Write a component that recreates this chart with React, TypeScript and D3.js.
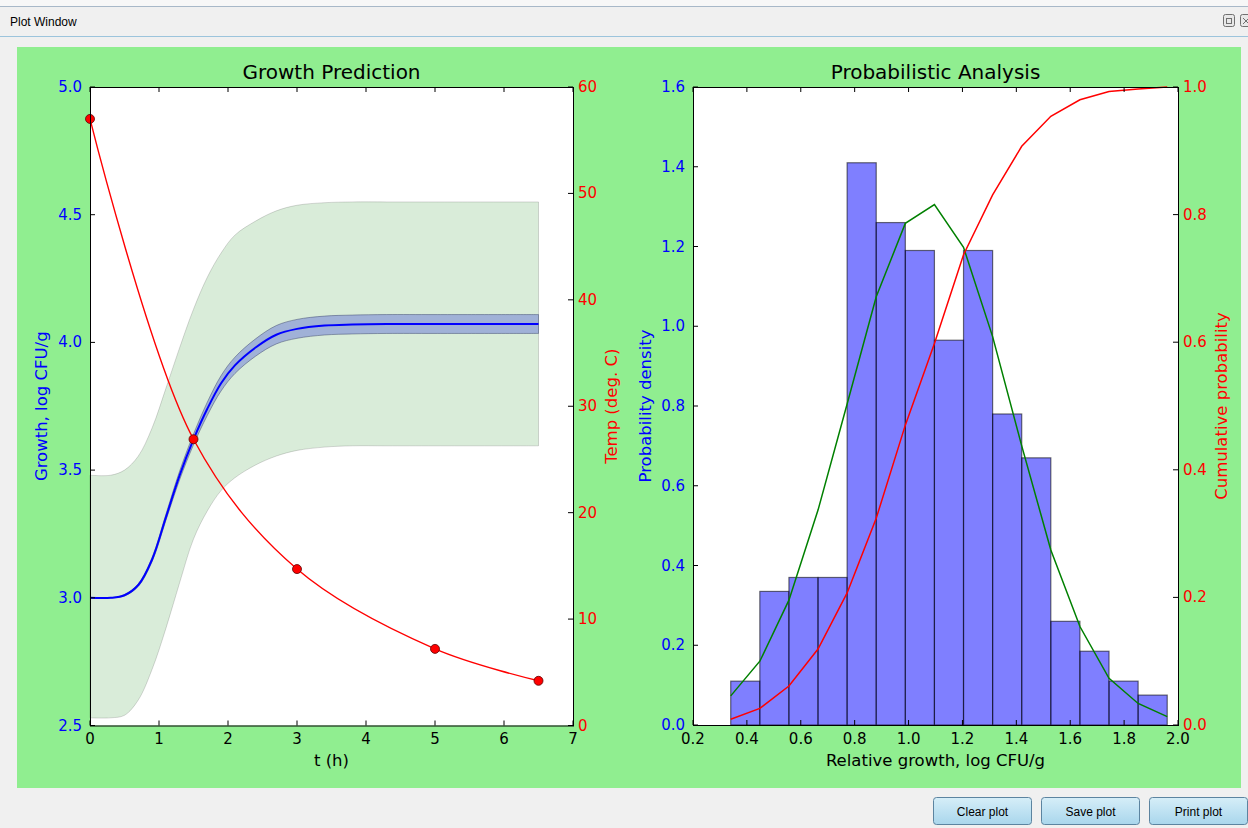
import React from "react";
import * as d3 from "d3";

// ---------- Data ----------
// Growth prediction (left panel)
const timeGrid = [0, 0.3, 0.5, 0.7, 0.9, 1.1, 1.3, 1.5, 1.7, 1.9, 2.1, 2.4, 2.7, 3.0, 3.4, 3.8, 4.3, 5.0, 6.5];
const growthMean = [3.0, 3.0, 3.01, 3.05, 3.15, 3.315, 3.48, 3.62, 3.74, 3.84, 3.91, 3.98, 4.03, 4.053, 4.066, 4.07, 4.072, 4.072, 4.072];
const growthCiHi = [3.0, 3.0, 3.013, 3.055, 3.158, 3.327, 3.497, 3.641, 3.766, 3.87, 3.942, 4.014, 4.066, 4.09, 4.103, 4.107, 4.109, 4.109, 4.109];
const growthCiLo = [3.0, 3.0, 3.007, 3.045, 3.142, 3.303, 3.463, 3.599, 3.714, 3.81, 3.878, 3.946, 3.994, 4.016, 4.029, 4.033, 4.035, 4.035, 4.035];
const growthPiHi = [3.48, 3.48, 3.50, 3.555, 3.665, 3.82, 3.98, 4.13, 4.255, 4.35, 4.42, 4.475, 4.515, 4.537, 4.547, 4.55, 4.55, 4.55, 4.55];
const growthPiLo = [2.53, 2.53, 2.54, 2.60, 2.72, 2.88, 3.06, 3.23, 3.34, 3.42, 3.47, 3.52, 3.555, 3.577, 3.59, 3.595, 3.595, 3.595, 3.595];

const tempTimes = [0, 1.5, 3, 5, 6.5];
const tempValues = [57.0, 26.9, 14.7, 7.2, 4.2];

const growthTicks = [2.5, 3.0, 3.5, 4.0, 4.5, 5.0];
const tempTicks = [0, 10, 20, 30, 40, 50, 60];
const timeTicks = [0, 1, 2, 3, 4, 5, 6, 7];

// Probabilistic analysis (right panel)
const binEdges = [0.34, 0.448, 0.556, 0.664, 0.772, 0.88, 0.988, 1.096, 1.204, 1.312, 1.42, 1.528, 1.636, 1.744, 1.852, 1.96];
const density = [0.11, 0.335, 0.37, 0.37, 1.41, 1.26, 1.19, 0.965, 1.19, 0.78, 0.67, 0.26, 0.185, 0.11, 0.075];
const pdfValues = [0.073, 0.16, 0.313, 0.539, 0.805, 1.074, 1.258, 1.305, 1.198, 0.974, 0.70, 0.439, 0.247, 0.117, 0.054, 0.021];
const cdfValues = [0.009, 0.026, 0.061, 0.119, 0.207, 0.324, 0.47, 0.598, 0.737, 0.831, 0.907, 0.954, 0.98, 0.993, 0.997, 1.0];

const relTicks = [0.2, 0.4, 0.6, 0.8, 1.0, 1.2, 1.4, 1.6, 1.8, 2.0];
const densTicks = [0, 0.2, 0.4, 0.6, 0.8, 1.0, 1.2, 1.4, 1.6];
const cumTicks = [0, 0.2, 0.4, 0.6, 0.8, 1.0];

const buttons = ["Clear plot", "Save plot", "Print plot"];

// ---------- Styles ----------
const FONT = "'DejaVu Sans', sans-serif";
const UI_FONT = "'Liberation Sans', 'Noto Sans', sans-serif";
const TICK = 5;
const LABEL_SIZE = 16.5;

export default function App() {
  // Left panel scales
  const L = { x0: 90, x1: 573, y0: 87, y1: 725.5 };
  const xT = d3.scaleLinear().domain([0, 7]).range([L.x0, L.x1]);
  const yG = d3.scaleLinear().domain([2.5, 5.0]).range([L.y1, L.y0]);
  const yTemp = d3.scaleLinear().domain([0, 60]).range([L.y1, L.y0]);

  // Right panel scales
  const R = { x0: 693, x1: 1178, y0: 87, y1: 725 };
  const xR = d3.scaleLinear().domain([0.2, 2.0]).range([R.x0, R.x1]);
  const yD = d3.scaleLinear().domain([0, 1.6]).range([R.y1, R.y0]);
  const yC = d3.scaleLinear().domain([0, 1]).range([R.y1, R.y0]);

  const smooth = d3.curveCatmullRom.alpha(0.5);
  const idx = timeGrid.map((_, i) => i);
  const piArea = d3
    .area<number>()
    .x((i) => xT(timeGrid[i]))
    .y0((i) => yG(growthPiLo[i]))
    .y1((i) => yG(growthPiHi[i]))
    .curve(smooth)(idx) as string;
  const ciArea = d3
    .area<number>()
    .x((i) => xT(timeGrid[i]))
    .y0((i) => yG(growthCiLo[i]))
    .y1((i) => yG(growthCiHi[i]))
    .curve(smooth)(idx) as string;
  const meanLine = d3
    .line<number>()
    .x((i) => xT(timeGrid[i]))
    .y((i) => yG(growthMean[i]))
    .curve(smooth)(idx) as string;
  const tempLine = d3
    .line<number>()
    .x((_, i) => xT(tempTimes[i]))
    .y((d) => yTemp(d))
    .curve(d3.curveCatmullRom.alpha(0.5))(tempValues) as string;

  const pdfLine = d3
    .line<number>()
    .x((_, i) => xR(binEdges[i]))
    .y((d) => yD(d))(pdfValues) as string;
  const cdfLine = d3
    .line<number>()
    .x((_, i) => xR(binEdges[i]))
    .y((d) => yC(d))(cdfValues) as string;

  const fmt1 = d3.format(".1f");

  const frame = (P: { x0: number; x1: number; y0: number; y1: number }) => (
    <rect x={P.x0 + 0.5} y={P.y0 + 0.5} width={P.x1 - P.x0} height={P.y1 - P.y0} fill="none" stroke="#000" strokeWidth={1} />
  );

  return (
    <div style={{ position: "absolute", left: 0, top: 0, width: 1248, height: 828, overflow: "hidden" }}>
      <svg width={1248} height={828} style={{ display: "block" }}>
        {/* window chrome */}
        <rect x={0} y={0} width={1248} height={828} fill="#f0f0f0" />
        <rect x={0} y={0} width={1248} height={6} fill="#f7f7f7" />
        <line x1={0} x2={1248} y1={6.5} y2={6.5} stroke="#a8b8c8" />
        <text x={10} y={26} fontFamily={UI_FONT} fontSize={12} fill="#000">Plot Window</text>
        <line x1={0} x2={1248} y1={36.5} y2={36.5} stroke="#9cc4dc" />
        <g fill="none" stroke="#707070" strokeWidth={1}>
          <rect x={1223.5} y={14.5} width={11} height={12} rx={2} fill="#e8e8e8" />
          <rect x={1226.5} y={18.5} width={5} height={5} />
          <rect x={1240.5} y={14.5} width={11} height={12} rx={2} fill="#e8e8e8" />
          <path d="M1243 18 L1249 24 M1249 18 L1243 24" />
        </g>

        {/* figure background */}
        <rect x={17} y={47} width={1224} height={741} fill="#90ee90" />

        {/* ---------------- Left panel ---------------- */}
        <rect x={L.x0} y={L.y0} width={L.x1 - L.x0} height={L.y1 - L.y0} fill="#fff" />
        <path d={piArea} fill="rgba(0,128,0,0.15)" stroke="rgba(0,0,0,0.15)" strokeWidth={1} />
        <path d={ciArea} fill="#a0b1d7" stroke="rgba(50,60,100,0.45)" strokeWidth={1} />
        <path d={meanLine} fill="none" stroke="#0000ff" strokeWidth={2} />
        <path d={tempLine} fill="none" stroke="#ff0000" strokeWidth={1.4} />
        {tempValues.map((v, i) => (
          <circle key={i} cx={xT(tempTimes[i])} cy={yTemp(v)} r={4.5} fill="#ff0000" stroke="#5a0000" strokeWidth={0.8} />
        ))}
        {frame(L)}

        {/* bottom/top x ticks */}
        {timeTicks.map((t) => (
          <g key={t}>
            <line x1={xT(t)} x2={xT(t)} y1={L.y1} y2={L.y1 - TICK} stroke="#000" />
            <line x1={xT(t)} x2={xT(t)} y1={L.y0} y2={L.y0 + TICK} stroke="#000" />
            <text x={xT(t)} y={L.y1 + 18} textAnchor="middle" fontFamily={FONT} fontSize={15} fill="#000">{t}</text>
          </g>
        ))}
        {growthTicks.map((v) => (
          <g key={v}>
            <line x1={L.x0} x2={L.x0 + TICK} y1={yG(v)} y2={yG(v)} stroke="#000" />
            <text x={L.x0 - 8} y={yG(v) + 5} textAnchor="end" fontFamily={FONT} fontSize={15} fill="#0000ff">{fmt1(v)}</text>
          </g>
        ))}
        {tempTicks.map((v) => (
          <g key={v}>
            <line x1={L.x1} x2={L.x1 - TICK} y1={yTemp(v)} y2={yTemp(v)} stroke="#000" />
            <text x={L.x1 + 5} y={yTemp(v) + 5} textAnchor="start" fontFamily={FONT} fontSize={15} fill="#ff0000">{v}</text>
          </g>
        ))}
        <text x={(L.x0 + L.x1) / 2} y={79} textAnchor="middle" fontFamily={FONT} fontSize={20} fill="#000">Growth Prediction</text>
        <text x={(L.x0 + L.x1) / 2} y={766} textAnchor="middle" fontFamily={FONT} fontSize={LABEL_SIZE} fill="#000">t (h)</text>
        <text transform={`translate(47,${(L.y0 + L.y1) / 2}) rotate(-90)`} textAnchor="middle" fontFamily={FONT} fontSize={LABEL_SIZE} fill="#0000ff">Growth, log CFU/g</text>
        <text transform={`translate(617,${(L.y0 + L.y1) / 2}) rotate(-90)`} textAnchor="middle" fontFamily={FONT} fontSize={LABEL_SIZE} fill="#ff0000">Temp (deg. C)</text>

        {/* ---------------- Right panel ---------------- */}
        <rect x={R.x0} y={R.y0} width={R.x1 - R.x0} height={R.y1 - R.y0} fill="#fff" />
        {density.map((d, i) => (
          <rect
            key={i}
            x={xR(binEdges[i])}
            y={yD(d)}
            width={xR(binEdges[i + 1]) - xR(binEdges[i])}
            height={yD(0) - yD(d)}
            fill="rgba(0,0,255,0.5)"
            stroke="rgba(0,0,0,0.55)"
            strokeWidth={1.2}
          />
        ))}
        <path d={pdfLine} fill="none" stroke="#008000" strokeWidth={1.5} />
        <path d={cdfLine} fill="none" stroke="#ff0000" strokeWidth={1.5} />
        {frame(R)}
        {relTicks.map((t) => (
          <g key={t}>
            <line x1={xR(t)} x2={xR(t)} y1={R.y1} y2={R.y1 - TICK} stroke="#000" />
            <line x1={xR(t)} x2={xR(t)} y1={R.y0} y2={R.y0 + TICK} stroke="#000" />
            <text x={xR(t)} y={R.y1 + 19} textAnchor="middle" fontFamily={FONT} fontSize={15} fill="#000">{fmt1(t)}</text>
          </g>
        ))}
        {densTicks.map((v) => (
          <g key={v}>
            <line x1={R.x0} x2={R.x0 + TICK} y1={yD(v)} y2={yD(v)} stroke="#000" />
            <text x={R.x0 - 8} y={yD(v) + 5} textAnchor="end" fontFamily={FONT} fontSize={15} fill="#0000ff">{fmt1(v)}</text>
          </g>
        ))}
        {cumTicks.map((v) => (
          <g key={v}>
            <line x1={R.x1} x2={R.x1 - TICK} y1={yC(v)} y2={yC(v)} stroke="#000" />
            <text x={R.x1 + 5} y={yC(v) + 5} textAnchor="start" fontFamily={FONT} fontSize={15} fill="#ff0000">{fmt1(v)}</text>
          </g>
        ))}
        <text x={(R.x0 + R.x1) / 2} y={79} textAnchor="middle" fontFamily={FONT} fontSize={20} fill="#000">Probabilistic Analysis</text>
        <text x={(R.x0 + R.x1) / 2} y={766} textAnchor="middle" fontFamily={FONT} fontSize={LABEL_SIZE} fill="#000">Relative growth, log CFU/g</text>
        <text transform={`translate(651,${(R.y0 + R.y1) / 2}) rotate(-90)`} textAnchor="middle" fontFamily={FONT} fontSize={LABEL_SIZE} fill="#0000ff">Probability density</text>
        <text transform={`translate(1227,${(R.y0 + R.y1) / 2}) rotate(-90)`} textAnchor="middle" fontFamily={FONT} fontSize={LABEL_SIZE} fill="#ff0000">Cumulative probability</text>

        {/* buttons */}
        <defs>
          <linearGradient id="btnGrad" x1="0" y1="0" x2="0" y2="1">
            <stop offset="0" stopColor="#d6eef8" />
            <stop offset="0.5" stopColor="#bfe2f2" />
            <stop offset="1" stopColor="#a9d6ec" />
          </linearGradient>
        </defs>
        {buttons.map((b, i) => (
          <g key={b}>
            <rect x={933.5 + i * 108} y={797.5} width={98} height={27} rx={3} fill="url(#btnGrad)" stroke="#5c84a0" />
            <text x={982.5 + i * 108} y={816} textAnchor="middle" fontFamily={UI_FONT} fontSize={12} fill="#000">{b}</text>
          </g>
        ))}
      </svg>
    </div>
  );
}
